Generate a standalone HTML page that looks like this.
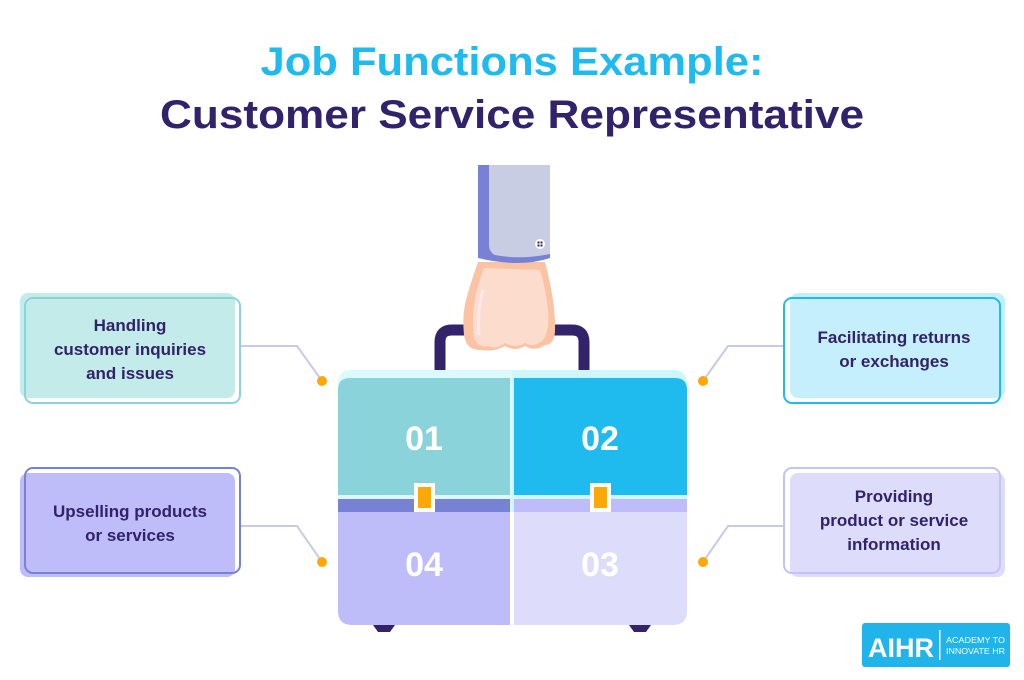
<!DOCTYPE html>
<html><head><meta charset="utf-8"><style>
html,body{margin:0;padding:0;background:#fff;}
svg{display:block;font-family:"Liberation Sans",sans-serif;}
</style></head><body>
<svg width="1024" height="680" viewBox="0 0 1024 680" xmlns="http://www.w3.org/2000/svg">
<rect width="1024" height="680" fill="#fff"/>
<!-- Title -->
<text x="512" y="75" text-anchor="middle" font-size="40" font-weight="bold" fill="#20bbee" textLength="503" lengthAdjust="spacingAndGlyphs">Job Functions Example:</text>
<text x="512" y="128" text-anchor="middle" font-size="40" font-weight="bold" fill="#31226a" textLength="704" lengthAdjust="spacingAndGlyphs">Customer Service Representative</text>

<!-- connectors -->
<g fill="none" stroke="#c8cbe4" stroke-width="2">
<polyline points="240,346 297,346 322,381"/>
<polyline points="240,526 297,526 322,562"/>
<polyline points="784,346 728,346 703,381"/>
<polyline points="784,526 728,526 703,562"/>
</g>
<g fill="#fca70a">
<circle cx="322" cy="381" r="5"/><circle cx="322" cy="562" r="5"/>
<circle cx="703" cy="381" r="5"/><circle cx="703" cy="562" r="5"/>
</g>

<!-- Left boxes -->
<rect x="20" y="293" width="215" height="105" rx="8" fill="#c3ebe9"/>
<rect x="25" y="298" width="215" height="105" rx="8" fill="none" stroke="#8dd3dc" stroke-width="2"/>
<g font-size="17" font-weight="bold" fill="#31226a" text-anchor="middle">
<text x="130" y="331">Handling</text>
<text x="130" y="355">customer inquiries</text>
<text x="130" y="379">and issues</text>
</g>
<rect x="20" y="473" width="215" height="104" rx="8" fill="#bfbcfa"/>
<rect x="25" y="468" width="215" height="105" rx="8" fill="none" stroke="#7882d4" stroke-width="2"/>
<g font-size="17" font-weight="bold" fill="#31226a" text-anchor="middle">
<text x="130" y="517">Upselling products</text>
<text x="130" y="541">or services</text>
</g>

<!-- Right boxes -->
<rect x="790" y="293" width="215" height="105" rx="8" fill="#c6effd"/>
<rect x="784" y="298" width="216" height="105" rx="8" fill="none" stroke="#20bbee" stroke-width="2"/>
<g font-size="17" font-weight="bold" fill="#31226a" text-anchor="middle">
<text x="894" y="343">Facilitating returns</text>
<text x="894" y="367">or exchanges</text>
</g>
<rect x="790" y="473" width="215" height="104" rx="8" fill="#dedcfb"/>
<rect x="784" y="468" width="216" height="105" rx="8" fill="none" stroke="#c5c2f7" stroke-width="2"/>
<g font-size="17" font-weight="bold" fill="#31226a" text-anchor="middle">
<text x="894" y="502">Providing</text>
<text x="894" y="526">product or service</text>
<text x="894" y="550">information</text>
</g>

<!-- handle -->
<path d="M440,372 V342 Q440,330 452,330 H572 Q584,330 584,342 V372" fill="none" stroke="#32236a" stroke-width="11"/>
<!-- feet -->
<path d="M373,625 H395 L390,632 H378 Z" fill="#32236a"/>
<path d="M629,625 H651 L646,632 H634 Z" fill="#32236a"/>

<!-- suitcase body -->
<path d="M352,370 H673 Q687,370 687,384 V512 H338 V384 Q338,370 352,370 Z" fill="#dcfafb"/>
<path d="M512,370 H673 Q687,370 687,384 V512 H512 Z" fill="#cdf6fd"/>
<path d="M350,378 H510 V495 H338 V390 Q338,378 350,378 Z" fill="#8bd3db"/>
<path d="M514,378 H675 Q687,378 687,390 V495 H514 Z" fill="#20bbee"/>
<rect x="338" y="499" width="172" height="13" fill="#7882d4"/>
<rect x="514" y="499" width="173" height="13" fill="#bfbcfa"/>
<path d="M338,512 H510 V625 H352 Q338,625 338,611 Z" fill="#bfbcfa"/>
<path d="M514,512 H687 V611 Q687,625 673,625 H514 Z" fill="#dedcfb"/>
<!-- clasps -->
<rect x="414" y="483" width="21" height="29" fill="#fff"/>
<rect x="418" y="487" width="13" height="21" fill="#fca70a"/>
<rect x="590" y="483" width="21" height="29" fill="#fff"/>
<rect x="594" y="487" width="13" height="21" fill="#fca70a"/>
<!-- numbers -->
<g font-size="34" font-weight="bold" fill="#fff" text-anchor="middle">
<text x="424" y="450">01</text>
<text x="600" y="450">02</text>
<text x="424" y="576">04</text>
<text x="600" y="576">03</text>
</g>

<!-- hand -->
<path d="M478,262 Q470,285 466,300 Q462,315 464,335 Q466,350 480,350 Q495,352 505,346 Q515,352 525,346 Q535,352 545,345 Q556,345 555,325 Q555,300 545,262 Z" fill="#fbc3a4"/>
<path d="M484,268 Q476,290 474,305 Q472,320 474,338 Q478,348 488,346 Q497,350 505,343 Q515,349 525,343 Q535,348 543,340 Q550,330 548,310 Q546,290 540,270 Z" fill="#fcdccd"/>
<path d="M483,290 Q477,310 479,335" fill="none" stroke="#fbe8ee" stroke-width="3"/>
<!-- sleeve -->
<path d="M478,165 H550 V258 Q520,268 478,258 Z" fill="#7882d4"/>
<path d="M489,165 H550 V254 Q520,260 495,255 Q489,252 489,245 Z" fill="#c9cde4"/>
<circle cx="540" cy="244" r="5" fill="#fff"/>
<g fill="#31226a"><rect x="537.5" y="241.5" width="2" height="2"/><rect x="540.5" y="241.5" width="2" height="2"/><rect x="537.5" y="244.5" width="2" height="2"/><rect x="540.5" y="244.5" width="2" height="2"/></g>

<!-- logo -->
<rect x="862" y="623" width="148" height="44" rx="3" fill="#20b4ea"/>
<text x="868" y="657" font-size="27" font-weight="bold" fill="#fff" textLength="66" lengthAdjust="spacingAndGlyphs">AIHR</text>
<rect x="939" y="630" width="1.5" height="30" fill="#fff"/>
<text x="946" y="643" font-size="8.5" fill="#fff" textLength="59" lengthAdjust="spacingAndGlyphs">ACADEMY TO</text>
<text x="946" y="654" font-size="8.5" fill="#fff" textLength="59" lengthAdjust="spacingAndGlyphs">INNOVATE HR</text>
</svg>
</body></html>
